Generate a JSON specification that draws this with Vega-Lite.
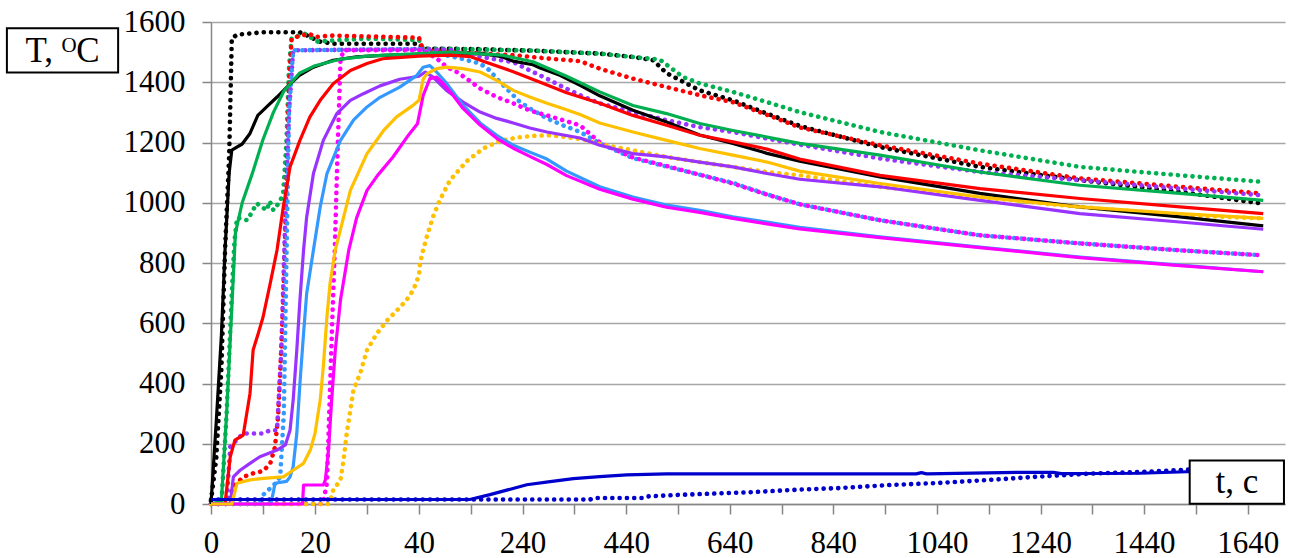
{
  "$schema": "https://vega.github.io/schema/vega-lite/v6.json",
  "width": 1074,
  "height": 482,
  "autosize": {"type": "none"},
  "padding": {"left": 211, "top": 22, "right": 4, "bottom": 54},
  "background": "white",
  "config": {"view": {"stroke": null}},
  "datasets": {
    "curves": [
      {"s":1,"k":"calc","t":0,"T":0},{"s":1,"k":"calc","t":1,"T":270},{"s":1,"k":"calc","t":2,"T":560},{"s":1,"k":"calc","t":2.7,"T":843},{"s":1,"k":"calc","t":3.5,"T":1100},{"s":1,"k":"calc","t":4,"T":1175},{"s":1,"k":"calc","t":6,"T":1195},{"s":1,"k":"calc","t":7.5,"T":1230},{"s":1,"k":"calc","t":9,"T":1290},{"s":1,"k":"calc","t":10.7,"T":1318},{"s":1,"k":"calc","t":12.7,"T":1351},{"s":1,"k":"calc","t":14.6,"T":1384},{"s":1,"k":"calc","t":17,"T":1423},{"s":1,"k":"calc","t":19.7,"T":1450},{"s":1,"k":"calc","t":23.5,"T":1473},{"s":1,"k":"calc","t":28,"T":1484},{"s":1,"k":"calc","t":33,"T":1489},{"s":1,"k":"calc","t":40,"T":1493},{"s":1,"k":"calc","t":100,"T":1497},{"s":1,"k":"calc","t":160,"T":1496},{"s":1,"k":"calc","t":200,"T":1485},{"s":1,"k":"calc","t":222,"T":1470},{"s":1,"k":"calc","t":260,"T":1458},{"s":1,"k":"calc","t":274,"T":1447},{"s":1,"k":"calc","t":312,"T":1423},{"s":1,"k":"calc","t":351,"T":1390},{"s":1,"k":"calc","t":389,"T":1355},{"s":1,"k":"calc","t":453,"T":1307},{"s":1,"k":"calc","t":518,"T":1268},{"s":1,"k":"calc","t":582,"T":1225},{"s":1,"k":"calc","t":646,"T":1197},{"s":1,"k":"calc","t":712,"T":1164},{"s":1,"k":"calc","t":775,"T":1138},{"s":1,"k":"calc","t":930,"T":1086},{"s":1,"k":"calc","t":1123,"T":1031},{"s":1,"k":"calc","t":1316,"T":986},{"s":1,"k":"calc","t":1509,"T":953},{"s":1,"k":"calc","t":1670,"T":923},

      {"s":1,"k":"exp","t":0,"T":10},{"s":1,"k":"exp","t":1,"T":150},{"s":1,"k":"exp","t":2,"T":450},{"s":1,"k":"exp","t":2.7,"T":843},{"s":1,"k":"exp","t":3.5,"T":1160},{"s":1,"k":"exp","t":4,"T":1545},{"s":1,"k":"exp","t":5,"T":1558},{"s":1,"k":"exp","t":7,"T":1561},{"s":1,"k":"exp","t":10,"T":1566},{"s":1,"k":"exp","t":17,"T":1566},{"s":1,"k":"exp","t":18,"T":1560},{"s":1,"k":"exp","t":19,"T":1550},{"s":1,"k":"exp","t":21,"T":1535},{"s":1,"k":"exp","t":23.5,"T":1528},{"s":1,"k":"exp","t":40,"T":1528},{"s":1,"k":"exp","t":48,"T":1511},{"s":1,"k":"exp","t":100,"T":1511},{"s":1,"k":"exp","t":150,"T":1510},{"s":1,"k":"exp","t":260,"T":1505},{"s":1,"k":"exp","t":389,"T":1495},{"s":1,"k":"exp","t":453,"T":1484},{"s":1,"k":"exp","t":492,"T":1473},{"s":1,"k":"exp","t":518,"T":1430},{"s":1,"k":"exp","t":582,"T":1373},{"s":1,"k":"exp","t":646,"T":1340},{"s":1,"k":"exp","t":712,"T":1296},{"s":1,"k":"exp","t":775,"T":1255},{"s":1,"k":"exp","t":930,"T":1185},{"s":1,"k":"exp","t":1123,"T":1119},{"s":1,"k":"exp","t":1316,"T":1075},{"s":1,"k":"exp","t":1509,"T":1036},{"s":1,"k":"exp","t":1670,"T":997},

      {"s":2,"k":"calc","t":0,"T":0},{"s":2,"k":"calc","t":2,"T":10},{"s":2,"k":"calc","t":3,"T":300},{"s":2,"k":"calc","t":4,"T":650},{"s":2,"k":"calc","t":4.7,"T":900},{"s":2,"k":"calc","t":6,"T":1000},{"s":2,"k":"calc","t":8,"T":1100},{"s":2,"k":"calc","t":10,"T":1210},{"s":2,"k":"calc","t":12,"T":1300},{"s":2,"k":"calc","t":14,"T":1370},{"s":2,"k":"calc","t":15.5,"T":1400},{"s":2,"k":"calc","t":17,"T":1430},{"s":2,"k":"calc","t":20,"T":1455},{"s":2,"k":"calc","t":25,"T":1477},{"s":2,"k":"calc","t":30,"T":1487},{"s":2,"k":"calc","t":40,"T":1495},{"s":2,"k":"calc","t":100,"T":1500},{"s":2,"k":"calc","t":200,"T":1490},{"s":2,"k":"calc","t":260,"T":1468},{"s":2,"k":"calc","t":325,"T":1420},{"s":2,"k":"calc","t":389,"T":1368},{"s":2,"k":"calc","t":453,"T":1323},{"s":2,"k":"calc","t":518,"T":1296},{"s":2,"k":"calc","t":582,"T":1263},{"s":2,"k":"calc","t":646,"T":1240},{"s":2,"k":"calc","t":712,"T":1218},{"s":2,"k":"calc","t":775,"T":1197},{"s":2,"k":"calc","t":930,"T":1158},{"s":2,"k":"calc","t":1123,"T":1102},{"s":2,"k":"calc","t":1316,"T":1058},{"s":2,"k":"calc","t":1509,"T":1031},{"s":2,"k":"calc","t":1670,"T":1008},

      {"s":2,"k":"exp","t":0,"T":0},{"s":2,"k":"exp","t":2,"T":0},{"s":2,"k":"exp","t":3,"T":300},{"s":2,"k":"exp","t":4,"T":700},{"s":2,"k":"exp","t":4.5,"T":870},{"s":2,"k":"exp","t":5,"T":950},{"s":2,"k":"exp","t":7,"T":942},{"s":2,"k":"exp","t":8.8,"T":998},{"s":2,"k":"exp","t":10.7,"T":975},{"s":2,"k":"exp","t":11.3,"T":1005},{"s":2,"k":"exp","t":12,"T":975},{"s":2,"k":"exp","t":13.3,"T":1005},{"s":2,"k":"exp","t":13.9,"T":1036},{"s":2,"k":"exp","t":14.5,"T":1200},{"s":2,"k":"exp","t":15,"T":1450},{"s":2,"k":"exp","t":15.5,"T":1545},{"s":2,"k":"exp","t":16,"T":1550},{"s":2,"k":"exp","t":18,"T":1561},{"s":2,"k":"exp","t":20.5,"T":1535},{"s":2,"k":"exp","t":25,"T":1540},{"s":2,"k":"exp","t":30,"T":1545},{"s":2,"k":"exp","t":40,"T":1540},{"s":2,"k":"exp","t":48,"T":1511},{"s":2,"k":"exp","t":100,"T":1511},{"s":2,"k":"exp","t":260,"T":1505},{"s":2,"k":"exp","t":389,"T":1495},{"s":2,"k":"exp","t":453,"T":1484},{"s":2,"k":"exp","t":505,"T":1475},{"s":2,"k":"exp","t":550,"T":1417},{"s":2,"k":"exp","t":582,"T":1396},{"s":2,"k":"exp","t":646,"T":1368},{"s":2,"k":"exp","t":712,"T":1334},{"s":2,"k":"exp","t":775,"T":1301},{"s":2,"k":"exp","t":930,"T":1235},{"s":2,"k":"exp","t":1123,"T":1174},{"s":2,"k":"exp","t":1316,"T":1119},{"s":2,"k":"exp","t":1509,"T":1091},{"s":2,"k":"exp","t":1670,"T":1069},

      {"s":3,"k":"calc","t":0,"T":0},{"s":3,"k":"calc","t":2.7,"T":0},{"s":3,"k":"calc","t":3.7,"T":157},{"s":3,"k":"calc","t":4.6,"T":212},{"s":3,"k":"calc","t":6.2,"T":229},{"s":3,"k":"calc","t":7.5,"T":367},{"s":3,"k":"calc","t":8.1,"T":511},{"s":3,"k":"calc","t":9.1,"T":567},{"s":3,"k":"calc","t":10,"T":620},{"s":3,"k":"calc","t":11.4,"T":733},{"s":3,"k":"calc","t":12.7,"T":843},{"s":3,"k":"calc","t":13.9,"T":986},{"s":3,"k":"calc","t":15.2,"T":1119},{"s":3,"k":"calc","t":17.1,"T":1207},{"s":3,"k":"calc","t":19,"T":1284},{"s":3,"k":"calc","t":21,"T":1340},{"s":3,"k":"calc","t":23.5,"T":1395},{"s":3,"k":"calc","t":26.8,"T":1439},{"s":3,"k":"calc","t":30,"T":1462},{"s":3,"k":"calc","t":33,"T":1478},{"s":3,"k":"calc","t":40,"T":1487},{"s":3,"k":"calc","t":100,"T":1490},{"s":3,"k":"calc","t":140,"T":1485},{"s":3,"k":"calc","t":164,"T":1470},{"s":3,"k":"calc","t":222,"T":1435},{"s":3,"k":"calc","t":274,"T":1400},{"s":3,"k":"calc","t":325,"T":1365},{"s":3,"k":"calc","t":389,"T":1330},{"s":3,"k":"calc","t":453,"T":1290},{"s":3,"k":"calc","t":518,"T":1257},{"s":3,"k":"calc","t":582,"T":1224},{"s":3,"k":"calc","t":646,"T":1202},{"s":3,"k":"calc","t":712,"T":1178},{"s":3,"k":"calc","t":775,"T":1145},{"s":3,"k":"calc","t":930,"T":1091},{"s":3,"k":"calc","t":1123,"T":1047},{"s":3,"k":"calc","t":1316,"T":1014},{"s":3,"k":"calc","t":1509,"T":986},{"s":3,"k":"calc","t":1670,"T":964},

      {"s":3,"k":"exp","t":0,"T":0},{"s":3,"k":"exp","t":3,"T":0},{"s":3,"k":"exp","t":4.3,"T":57},{"s":3,"k":"exp","t":6.2,"T":90},{"s":3,"k":"exp","t":8.1,"T":102},{"s":3,"k":"exp","t":10.1,"T":110},{"s":3,"k":"exp","t":11.4,"T":135},{"s":3,"k":"exp","t":12.3,"T":189},{"s":3,"k":"exp","t":12.9,"T":289},{"s":3,"k":"exp","t":13.2,"T":400},{"s":3,"k":"exp","t":13.5,"T":511},{"s":3,"k":"exp","t":13.9,"T":677},{"s":3,"k":"exp","t":14.2,"T":843},{"s":3,"k":"exp","t":14.6,"T":1100},{"s":3,"k":"exp","t":15,"T":1400},{"s":3,"k":"exp","t":15.5,"T":1545},{"s":3,"k":"exp","t":16,"T":1549},{"s":3,"k":"exp","t":18.9,"T":1561},{"s":3,"k":"exp","t":20,"T":1550},{"s":3,"k":"exp","t":23,"T":1555},{"s":3,"k":"exp","t":40,"T":1548},{"s":3,"k":"exp","t":48,"T":1505},{"s":3,"k":"exp","t":100,"T":1500},{"s":3,"k":"exp","t":158,"T":1495},{"s":3,"k":"exp","t":222,"T":1490},{"s":3,"k":"exp","t":287,"T":1479},{"s":3,"k":"exp","t":351,"T":1470},{"s":3,"k":"exp","t":389,"T":1445},{"s":3,"k":"exp","t":453,"T":1412},{"s":3,"k":"exp","t":518,"T":1384},{"s":3,"k":"exp","t":582,"T":1357},{"s":3,"k":"exp","t":646,"T":1334},{"s":3,"k":"exp","t":712,"T":1292},{"s":3,"k":"exp","t":775,"T":1250},{"s":3,"k":"exp","t":930,"T":1191},{"s":3,"k":"exp","t":1123,"T":1130},{"s":3,"k":"exp","t":1316,"T":1081},{"s":3,"k":"exp","t":1509,"T":1053},{"s":3,"k":"exp","t":1665,"T":1031},

      {"s":4,"k":"calc","t":0,"T":0},{"s":4,"k":"calc","t":3.7,"T":0},{"s":4,"k":"calc","t":4.3,"T":90},{"s":4,"k":"calc","t":5.6,"T":112},{"s":4,"k":"calc","t":7.5,"T":135},{"s":4,"k":"calc","t":9.4,"T":157},{"s":4,"k":"calc","t":12.7,"T":179},{"s":4,"k":"calc","t":14.3,"T":196},{"s":4,"k":"calc","t":15.2,"T":245},{"s":4,"k":"calc","t":15.8,"T":345},{"s":4,"k":"calc","t":16.5,"T":511},{"s":4,"k":"calc","t":17.1,"T":677},{"s":4,"k":"calc","t":17.8,"T":843},{"s":4,"k":"calc","t":18.4,"T":953},{"s":4,"k":"calc","t":19.7,"T":1097},{"s":4,"k":"calc","t":21.6,"T":1207},{"s":4,"k":"calc","t":24.2,"T":1296},{"s":4,"k":"calc","t":26.8,"T":1340},{"s":4,"k":"calc","t":29.3,"T":1362},{"s":4,"k":"calc","t":32.5,"T":1388},{"s":4,"k":"calc","t":36.3,"T":1410},{"s":4,"k":"calc","t":40,"T":1420},{"s":4,"k":"calc","t":52,"T":1434},{"s":4,"k":"calc","t":67,"T":1417},{"s":4,"k":"calc","t":93,"T":1373},{"s":4,"k":"calc","t":125,"T":1334},{"s":4,"k":"calc","t":158,"T":1301},{"s":4,"k":"calc","t":190,"T":1280},{"s":4,"k":"calc","t":222,"T":1265},{"s":4,"k":"calc","t":254,"T":1248},{"s":4,"k":"calc","t":287,"T":1235},{"s":4,"k":"calc","t":351,"T":1215},{"s":4,"k":"calc","t":389,"T":1191},{"s":4,"k":"calc","t":453,"T":1163},{"s":4,"k":"calc","t":518,"T":1152},{"s":4,"k":"calc","t":582,"T":1135},{"s":4,"k":"calc","t":646,"T":1119},{"s":4,"k":"calc","t":712,"T":1097},{"s":4,"k":"calc","t":775,"T":1078},{"s":4,"k":"calc","t":930,"T":1053},{"s":4,"k":"calc","t":1123,"T":1008},{"s":4,"k":"calc","t":1316,"T":964},{"s":4,"k":"calc","t":1509,"T":936},{"s":4,"k":"calc","t":1670,"T":912},

      {"s":4,"k":"exp","t":0,"T":0},{"s":4,"k":"exp","t":3,"T":0},{"s":4,"k":"exp","t":3.7,"T":190},{"s":4,"k":"exp","t":4.9,"T":212},{"s":4,"k":"exp","t":6.2,"T":234},{"s":4,"k":"exp","t":10,"T":234},{"s":4,"k":"exp","t":11.4,"T":245},{"s":4,"k":"exp","t":12.7,"T":245},{"s":4,"k":"exp","t":13.5,"T":500},{"s":4,"k":"exp","t":14.2,"T":900},{"s":4,"k":"exp","t":15,"T":1300},{"s":4,"k":"exp","t":15.8,"T":1506},{"s":4,"k":"exp","t":40,"T":1510},{"s":4,"k":"exp","t":100,"T":1508},{"s":4,"k":"exp","t":125,"T":1495},{"s":4,"k":"exp","t":177,"T":1479},{"s":4,"k":"exp","t":222,"T":1467},{"s":4,"k":"exp","t":254,"T":1439},{"s":4,"k":"exp","t":287,"T":1412},{"s":4,"k":"exp","t":318,"T":1384},{"s":4,"k":"exp","t":351,"T":1357},{"s":4,"k":"exp","t":389,"T":1330},{"s":4,"k":"exp","t":453,"T":1301},{"s":4,"k":"exp","t":518,"T":1274},{"s":4,"k":"exp","t":582,"T":1251},{"s":4,"k":"exp","t":646,"T":1235},{"s":4,"k":"exp","t":712,"T":1213},{"s":4,"k":"exp","t":775,"T":1193},{"s":4,"k":"exp","t":930,"T":1147},{"s":4,"k":"exp","t":1123,"T":1102},{"s":4,"k":"exp","t":1316,"T":1075},{"s":4,"k":"exp","t":1509,"T":1047},{"s":4,"k":"exp","t":1665,"T":1025},

      {"s":5,"k":"calc","t":0,"T":0},{"s":5,"k":"calc","t":11.5,"T":0},{"s":5,"k":"calc","t":12,"T":40},{"s":5,"k":"calc","t":12.3,"T":69},{"s":5,"k":"calc","t":14.5,"T":75},{"s":5,"k":"calc","t":15.2,"T":90},{"s":5,"k":"calc","t":15.8,"T":124},{"s":5,"k":"calc","t":16.5,"T":234},{"s":5,"k":"calc","t":17.1,"T":400},{"s":5,"k":"calc","t":17.8,"T":566},{"s":5,"k":"calc","t":18.4,"T":699},{"s":5,"k":"calc","t":19.7,"T":843},{"s":5,"k":"calc","t":21,"T":986},{"s":5,"k":"calc","t":22.3,"T":1097},{"s":5,"k":"calc","t":24.9,"T":1207},{"s":5,"k":"calc","t":27.4,"T":1274},{"s":5,"k":"calc","t":30,"T":1318},{"s":5,"k":"calc","t":32.5,"T":1350},{"s":5,"k":"calc","t":36.3,"T":1384},{"s":5,"k":"calc","t":39.6,"T":1423},{"s":5,"k":"calc","t":48,"T":1450},{"s":5,"k":"calc","t":61,"T":1455},{"s":5,"k":"calc","t":74,"T":1434},{"s":5,"k":"calc","t":93,"T":1397},{"s":5,"k":"calc","t":125,"T":1324},{"s":5,"k":"calc","t":158,"T":1265},{"s":5,"k":"calc","t":190,"T":1224},{"s":5,"k":"calc","t":222,"T":1191},{"s":5,"k":"calc","t":254,"T":1168},{"s":5,"k":"calc","t":287,"T":1145},{"s":5,"k":"calc","t":325,"T":1105},{"s":5,"k":"calc","t":389,"T":1053},{"s":5,"k":"calc","t":453,"T":1019},{"s":5,"k":"calc","t":518,"T":992},{"s":5,"k":"calc","t":582,"T":975},{"s":5,"k":"calc","t":646,"T":953},{"s":5,"k":"calc","t":712,"T":936},{"s":5,"k":"calc","t":775,"T":918},{"s":5,"k":"calc","t":930,"T":887},{"s":5,"k":"calc","t":1123,"T":853},{"s":5,"k":"calc","t":1316,"T":820},{"s":5,"k":"calc","t":1509,"T":793},{"s":5,"k":"calc","t":1670,"T":771},

      {"s":5,"k":"exp","t":0,"T":0},{"s":5,"k":"exp","t":9,"T":0},{"s":5,"k":"exp","t":10,"T":30},{"s":5,"k":"exp","t":11.7,"T":57},{"s":5,"k":"exp","t":12.5,"T":70},{"s":5,"k":"exp","t":13.3,"T":90},{"s":5,"k":"exp","t":14,"T":300},{"s":5,"k":"exp","t":14.5,"T":800},{"s":5,"k":"exp","t":15,"T":1300},{"s":5,"k":"exp","t":15.8,"T":1506},{"s":5,"k":"exp","t":40,"T":1510},{"s":5,"k":"exp","t":61,"T":1500},{"s":5,"k":"exp","t":113,"T":1482},{"s":5,"k":"exp","t":158,"T":1462},{"s":5,"k":"exp","t":177,"T":1439},{"s":5,"k":"exp","t":190,"T":1412},{"s":5,"k":"exp","t":209,"T":1379},{"s":5,"k":"exp","t":235,"T":1334},{"s":5,"k":"exp","t":254,"T":1313},{"s":5,"k":"exp","t":287,"T":1280},{"s":5,"k":"exp","t":318,"T":1257},{"s":5,"k":"exp","t":351,"T":1235},{"s":5,"k":"exp","t":389,"T":1197},{"s":5,"k":"exp","t":453,"T":1148},{"s":5,"k":"exp","t":518,"T":1120},{"s":5,"k":"exp","t":582,"T":1093},{"s":5,"k":"exp","t":646,"T":1066},{"s":5,"k":"exp","t":712,"T":1028},{"s":5,"k":"exp","t":775,"T":995},{"s":5,"k":"exp","t":930,"T":942},{"s":5,"k":"exp","t":1123,"T":892},{"s":5,"k":"exp","t":1316,"T":865},{"s":5,"k":"exp","t":1509,"T":842},{"s":5,"k":"exp","t":1665,"T":826},

      {"s":6,"k":"calc","t":0,"T":0},{"s":6,"k":"calc","t":17.6,"T":0},{"s":6,"k":"calc","t":17.8,"T":63},{"s":6,"k":"calc","t":21.6,"T":63},{"s":6,"k":"calc","t":22,"T":80},{"s":6,"k":"calc","t":22.6,"T":180},{"s":6,"k":"calc","t":23.2,"T":345},{"s":6,"k":"calc","t":23.9,"T":511},{"s":6,"k":"calc","t":24.9,"T":677},{"s":6,"k":"calc","t":26.5,"T":843},{"s":6,"k":"calc","t":28,"T":950},{"s":6,"k":"calc","t":30,"T":1041},{"s":6,"k":"calc","t":32,"T":1090},{"s":6,"k":"calc","t":35,"T":1152},{"s":6,"k":"calc","t":37.7,"T":1218},{"s":6,"k":"calc","t":39.7,"T":1262},{"s":6,"k":"calc","t":48,"T":1356},{"s":6,"k":"calc","t":61,"T":1412},{"s":6,"k":"calc","t":74,"T":1417},{"s":6,"k":"calc","t":87,"T":1395},{"s":6,"k":"calc","t":106,"T":1356},{"s":6,"k":"calc","t":125,"T":1313},{"s":6,"k":"calc","t":158,"T":1258},{"s":6,"k":"calc","t":190,"T":1214},{"s":6,"k":"calc","t":222,"T":1181},{"s":6,"k":"calc","t":254,"T":1154},{"s":6,"k":"calc","t":287,"T":1127},{"s":6,"k":"calc","t":325,"T":1090},{"s":6,"k":"calc","t":389,"T":1045},{"s":6,"k":"calc","t":453,"T":1012},{"s":6,"k":"calc","t":518,"T":985},{"s":6,"k":"calc","t":582,"T":968},{"s":6,"k":"calc","t":646,"T":948},{"s":6,"k":"calc","t":712,"T":930},{"s":6,"k":"calc","t":775,"T":913},{"s":6,"k":"calc","t":930,"T":884},{"s":6,"k":"calc","t":1123,"T":851},{"s":6,"k":"calc","t":1316,"T":818},{"s":6,"k":"calc","t":1509,"T":791},{"s":6,"k":"calc","t":1670,"T":771},

      {"s":6,"k":"exp","t":0,"T":0},{"s":6,"k":"exp","t":21.5,"T":0},{"s":6,"k":"exp","t":22.3,"T":70},{"s":6,"k":"exp","t":23.3,"T":600},{"s":6,"k":"exp","t":23.8,"T":843},{"s":6,"k":"exp","t":24.3,"T":1150},{"s":6,"k":"exp","t":24.9,"T":1473},{"s":6,"k":"exp","t":25.5,"T":1506},{"s":6,"k":"exp","t":48,"T":1506},{"s":6,"k":"exp","t":74,"T":1479},{"s":6,"k":"exp","t":93,"T":1451},{"s":6,"k":"exp","t":113,"T":1434},{"s":6,"k":"exp","t":132,"T":1412},{"s":6,"k":"exp","t":158,"T":1379},{"s":6,"k":"exp","t":190,"T":1351},{"s":6,"k":"exp","t":222,"T":1330},{"s":6,"k":"exp","t":254,"T":1306},{"s":6,"k":"exp","t":287,"T":1290},{"s":6,"k":"exp","t":351,"T":1257},{"s":6,"k":"exp","t":389,"T":1200},{"s":6,"k":"exp","t":453,"T":1150},{"s":6,"k":"exp","t":518,"T":1122},{"s":6,"k":"exp","t":582,"T":1093},{"s":6,"k":"exp","t":646,"T":1064},{"s":6,"k":"exp","t":712,"T":1027},{"s":6,"k":"exp","t":775,"T":995},{"s":6,"k":"exp","t":930,"T":942},{"s":6,"k":"exp","t":1123,"T":892},{"s":6,"k":"exp","t":1316,"T":865},{"s":6,"k":"exp","t":1509,"T":842},{"s":6,"k":"exp","t":1665,"T":826},

      {"s":7,"k":"calc","t":0,"T":0},{"s":7,"k":"calc","t":4,"T":0},{"s":7,"k":"calc","t":4.3,"T":20},{"s":7,"k":"calc","t":5,"T":69},{"s":7,"k":"calc","t":7.5,"T":80},{"s":7,"k":"calc","t":10.7,"T":86},{"s":7,"k":"calc","t":13.9,"T":90},{"s":7,"k":"calc","t":15.8,"T":112},{"s":7,"k":"calc","t":17.8,"T":135},{"s":7,"k":"calc","t":19.1,"T":179},{"s":7,"k":"calc","t":20,"T":234},{"s":7,"k":"calc","t":21,"T":345},{"s":7,"k":"calc","t":21.6,"T":456},{"s":7,"k":"calc","t":22.3,"T":622},{"s":7,"k":"calc","t":22.9,"T":733},{"s":7,"k":"calc","t":23.9,"T":843},{"s":7,"k":"calc","t":26.8,"T":1041},{"s":7,"k":"calc","t":30,"T":1163},{"s":7,"k":"calc","t":33.2,"T":1240},{"s":7,"k":"calc","t":35.7,"T":1285},{"s":7,"k":"calc","t":38.9,"T":1324},{"s":7,"k":"calc","t":40,"T":1340},{"s":7,"k":"calc","t":48,"T":1410},{"s":7,"k":"calc","t":55,"T":1428},{"s":7,"k":"calc","t":74,"T":1445},{"s":7,"k":"calc","t":93,"T":1450},{"s":7,"k":"calc","t":125,"T":1445},{"s":7,"k":"calc","t":158,"T":1434},{"s":7,"k":"calc","t":190,"T":1406},{"s":7,"k":"calc","t":222,"T":1373},{"s":7,"k":"calc","t":254,"T":1351},{"s":7,"k":"calc","t":287,"T":1330},{"s":7,"k":"calc","t":318,"T":1313},{"s":7,"k":"calc","t":351,"T":1293},{"s":7,"k":"calc","t":389,"T":1265},{"s":7,"k":"calc","t":453,"T":1235},{"s":7,"k":"calc","t":518,"T":1207},{"s":7,"k":"calc","t":582,"T":1180},{"s":7,"k":"calc","t":646,"T":1158},{"s":7,"k":"calc","t":712,"T":1135},{"s":7,"k":"calc","t":775,"T":1105},{"s":7,"k":"calc","t":930,"T":1064},{"s":7,"k":"calc","t":1123,"T":1019},{"s":7,"k":"calc","t":1316,"T":986},{"s":7,"k":"calc","t":1509,"T":964},{"s":7,"k":"calc","t":1670,"T":948},

      {"s":7,"k":"exp","t":0,"T":0},{"s":7,"k":"exp","t":22.5,"T":0},{"s":7,"k":"exp","t":23,"T":15},{"s":7,"k":"exp","t":23.5,"T":46},{"s":7,"k":"exp","t":24.9,"T":80},{"s":7,"k":"exp","t":25.5,"T":146},{"s":7,"k":"exp","t":26.1,"T":234},{"s":7,"k":"exp","t":26.8,"T":312},{"s":7,"k":"exp","t":27.4,"T":378},{"s":7,"k":"exp","t":28.7,"T":434},{"s":7,"k":"exp","t":30,"T":511},{"s":7,"k":"exp","t":31.9,"T":566},{"s":7,"k":"exp","t":33.9,"T":610},{"s":7,"k":"exp","t":36.4,"T":654},{"s":7,"k":"exp","t":37.6,"T":677},{"s":7,"k":"exp","t":38.9,"T":710},{"s":7,"k":"exp","t":40,"T":760},{"s":7,"k":"exp","t":42,"T":798},{"s":7,"k":"exp","t":48,"T":843},{"s":7,"k":"exp","t":55,"T":887},{"s":7,"k":"exp","t":67,"T":953},{"s":7,"k":"exp","t":80,"T":1008},{"s":7,"k":"exp","t":100,"T":1075},{"s":7,"k":"exp","t":132,"T":1138},{"s":7,"k":"exp","t":164,"T":1180},{"s":7,"k":"exp","t":196,"T":1205},{"s":7,"k":"exp","t":228,"T":1216},{"s":7,"k":"exp","t":260,"T":1222},{"s":7,"k":"exp","t":293,"T":1224},{"s":7,"k":"exp","t":325,"T":1218},{"s":7,"k":"exp","t":357,"T":1210},{"s":7,"k":"exp","t":389,"T":1195},{"s":7,"k":"exp","t":453,"T":1174},{"s":7,"k":"exp","t":518,"T":1152},{"s":7,"k":"exp","t":582,"T":1135},{"s":7,"k":"exp","t":646,"T":1119},{"s":7,"k":"exp","t":712,"T":1102},{"s":7,"k":"exp","t":775,"T":1091},{"s":7,"k":"exp","t":930,"T":1053},{"s":7,"k":"exp","t":1123,"T":1019},{"s":7,"k":"exp","t":1316,"T":986},{"s":7,"k":"exp","t":1509,"T":959},{"s":7,"k":"exp","t":1670,"T":948},

      {"s":8,"k":"calc","t":0,"T":15},{"s":8,"k":"calc","t":138,"T":15},{"s":8,"k":"calc","t":177,"T":31},{"s":8,"k":"calc","t":248,"T":64},{"s":8,"k":"calc","t":293,"T":74},{"s":8,"k":"calc","t":338,"T":84},{"s":8,"k":"calc","t":389,"T":91},{"s":8,"k":"calc","t":441,"T":97},{"s":8,"k":"calc","t":518,"T":100},{"s":8,"k":"calc","t":1000,"T":100},{"s":8,"k":"calc","t":1010,"T":104},{"s":8,"k":"calc","t":1020,"T":100},{"s":8,"k":"calc","t":1195,"T":105},{"s":8,"k":"calc","t":1265,"T":105},{"s":8,"k":"calc","t":1280,"T":101},{"s":8,"k":"calc","t":1432,"T":102},{"s":8,"k":"calc","t":1523,"T":107},{"s":8,"k":"calc","t":1670,"T":110},

      {"s":8,"k":"exp","t":0,"T":15},{"s":8,"k":"exp","t":370,"T":15},{"s":8,"k":"exp","t":380,"T":20},{"s":8,"k":"exp","t":470,"T":20},{"s":8,"k":"exp","t":480,"T":25},{"s":8,"k":"exp","t":550,"T":31},{"s":8,"k":"exp","t":615,"T":35},{"s":8,"k":"exp","t":679,"T":39},{"s":8,"k":"exp","t":776,"T":48},{"s":8,"k":"exp","t":853,"T":53},{"s":8,"k":"exp","t":949,"T":63},{"s":8,"k":"exp","t":1046,"T":70},{"s":8,"k":"exp","t":1142,"T":80},{"s":8,"k":"exp","t":1239,"T":91},{"s":8,"k":"exp","t":1336,"T":101},{"s":8,"k":"exp","t":1432,"T":106},{"s":8,"k":"exp","t":1523,"T":114},{"s":8,"k":"exp","t":1665,"T":122}
    ]
  },
  "layer": [
    {
      "data": {"name": "curves"},
      "transform": [{"filter": "datum.k == 'exp'"}],
      "mark": {"type": "line", "strokeWidth": 4.6, "strokeDash": [0.1, 7.2], "strokeCap": "round", "strokeJoin": "round"},
      "encoding": {
        "x": {
          "field": "t", "type": "quantitative",
          "scale": {"domain": [0, 40, 1712], "range": [0, 208, 1074], "nice": false, "zero": false},
          "axis": {
            "title": null, "grid": false,
            "values": [0, 10, 20, 30, 40, 140, 240, 340, 440, 540, 640, 740, 840, 940, 1040, 1140, 1240, 1340, 1440, 1540, 1640],
            "format": "d",
            "labelExpr": "(datum.value == 0 || datum.value == 20 || datum.value == 40 || (datum.value > 40 && (datum.value - 40) % 200 == 0)) ? datum.label : ''",
            "labelFont": "Liberation Serif", "labelFontSize": 31, "labelColor": "#000000", "labelPadding": 14,
            "labelOverlap": false, "labelFlush": false,
            "domainColor": "#868686", "domainWidth": 1.5, "tickColor": "#868686", "tickWidth": 1.5, "tickSize": 10
          }
        },
        "y": {
          "field": "T", "type": "quantitative",
          "scale": {"domain": [0, 1600], "nice": false, "zero": true},
          "axis": {
            "title": null,
            "values": [0, 100, 200, 300, 400, 500, 600, 700, 800, 900, 1000, 1100, 1200, 1300, 1400, 1500, 1600],
            "format": "d",
            "labelExpr": "datum.value % 200 == 0 ? datum.label : ''",
            "grid": true, "gridColor": "#a6a6a6", "gridWidth": 1.5,
            "gridOpacity": {"condition": {"test": "datum.value % 200 != 0", "value": 0}, "value": 1},
            "labelFont": "Liberation Serif", "labelFontSize": 31, "labelColor": "#000000", "labelPadding": 17,
            "labelOverlap": false, "labelFlush": false,
            "domainColor": "#868686", "domainWidth": 1.5, "tickColor": "#868686", "tickWidth": 1.5, "tickSize": 9
          }
        },
        "color": {
          "field": "s", "type": "nominal", "legend": null,
          "scale": {"domain": [1, 2, 3, 4, 5, 6, 7, 8], "range": ["#000000", "#00b050", "#ff0000", "#9933ff", "#3399ff", "#ff00ff", "#ffc000", "#0000cc"]}
        }
      }
    },
    {
      "data": {"name": "curves"},
      "transform": [{"filter": "datum.k == 'calc'"}],
      "mark": {"type": "line", "strokeWidth": 3.2, "strokeJoin": "round"},
      "encoding": {
        "x": {"field": "t", "type": "quantitative"},
        "y": {"field": "T", "type": "quantitative"},
        "color": {"field": "s", "type": "nominal", "legend": null}
      }
    },
    {
      "data": {"values": [{"label": "T, ᴼC"}]},
      "mark": {"type": "rect", "fill": "white", "stroke": "black", "strokeWidth": 2},
      "encoding": {
        "x": {"datum": -39.25, "type": "quantitative"},
        "x2": {"datum": -17.86},
        "y": {"datum": 1579, "type": "quantitative"},
        "y2": {"datum": 1432}
      }
    },
    {
      "data": {"values": [{"label": "T, ᴼC"}]},
      "mark": {"type": "text", "font": "Liberation Serif", "fontSize": 35, "baseline": "middle", "align": "center", "color": "black"},
      "encoding": {
        "x": {"datum": -28.55, "type": "quantitative"},
        "y": {"datum": 1505, "type": "quantitative"},
        "text": {"field": "label"}
      }
    },
    {
      "data": {"values": [{"label": "t, c"}]},
      "mark": {"type": "rect", "fill": "white", "stroke": "black", "strokeWidth": 2},
      "encoding": {
        "x": {"datum": 1528, "type": "quantitative"},
        "x2": {"datum": 1710},
        "y": {"datum": 144, "type": "quantitative"},
        "y2": {"datum": 1}
      }
    },
    {
      "data": {"values": [{"label": "t, c"}]},
      "mark": {"type": "text", "font": "Liberation Serif", "fontSize": 35, "baseline": "middle", "align": "center", "color": "black"},
      "encoding": {
        "x": {"datum": 1619, "type": "quantitative"},
        "y": {"datum": 73, "type": "quantitative"},
        "text": {"field": "label"}
      }
    }
  ]
}
